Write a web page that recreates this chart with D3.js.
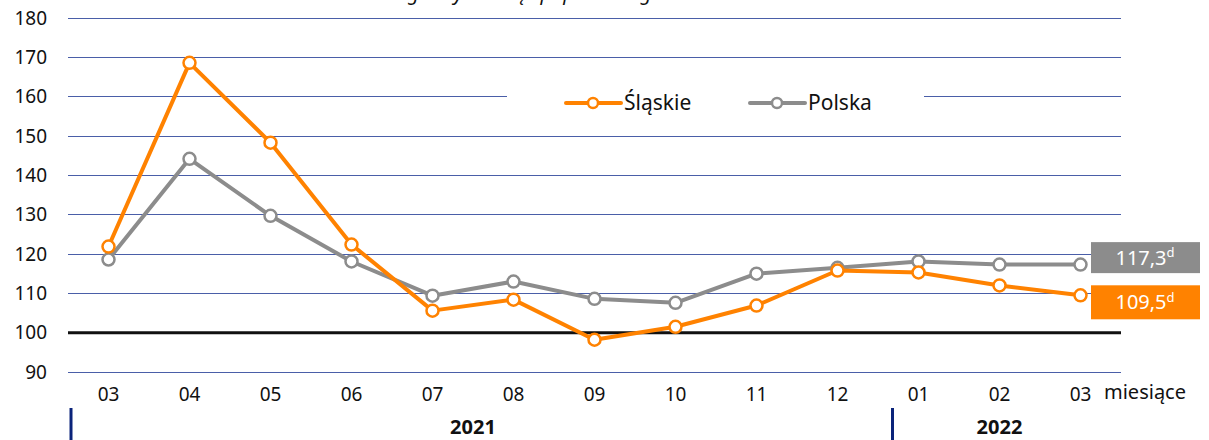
<!DOCTYPE html>
<meta charset="utf-8">
<style>
body { margin: 0; background: #fff; }
svg text { font-family: "Noto Sans", sans-serif; fill: #111; }
.grid line { stroke: #4a5ea8; stroke-width: 1px; shape-rendering: crispEdges; }
.tick-y { font-size: 19px; }
.tick-x { font-size: 19px; }
</style>
<svg width="1209" height="440"></svg>
<script src="https://cdn.jsdelivr.net/npm/d3@7"></script>
<script>

// months shown on the x axis
let months = ["03", "04", "05", "06", "07", "08", "09", "10", "11", "12", "01", "02", "03"];
// analogiczny miesiąc poprzedniego roku = 100
let slaskie = [121.9, 168.6, 148.3, 122.4, 105.6, 108.4, 98.2, 101.5, 106.9, 115.8, 115.3, 112.0, 109.5];
let polska  = [118.6, 144.2, 129.7, 118.1, 109.4, 113.0, 108.6, 107.6, 115.0, 116.5, 118.1, 117.3, 117.3];
let yTicks = [90, 100, 110, 120, 130, 140, 150, 160, 170, 180];
let years = [{label: "2021", from: 0, to: 9}, {label: "2022", from: 10, to: 12}];
let lastLabels = ["117,3", "109,5"];

let svg = d3.select("svg");
let plotLeft = 68, plotRight = 1121, plotTop = 18, plotBottom = 372;

let x = d3.scaleBand().domain(d3.range(months.length)).range([plotLeft, plotRight]);
let y = d3.scaleLinear().domain([90, 180]).range([plotBottom, plotTop]);
let cx = i => x(i) + x.bandwidth() / 2;

// title (cut off at the top of the picture, as in the source)
svg.append("text")
    .attr("x", 560).attr("y", 0)
    .attr("text-anchor", "middle")
    .style("font-size", "20px").style("font-style", "italic")
    .text("analogiczny miesiąc poprzedniego roku = 100");

// gridlines
let grid = svg.append("g").attr("class", "grid");
grid.selectAll("line")
    .data(yTicks.filter(d => d !== 100))
    .enter().append("line")
    .attr("x1", plotLeft).attr("x2", plotRight)
    .attr("y1", d => y(d)).attr("y2", d => y(d));

// y tick labels
svg.selectAll(".tick-y")
    .data(yTicks)
    .enter().append("text")
    .attr("class", "tick-y")
    .attr("x", 47).attr("y", d => y(d))
    .attr("dy", "0.35em")
    .attr("text-anchor", "end")
    .text(d => d);

// legend (white box hides the gridline behind it)
let legend = svg.append("g");
legend.append("rect")
    .attr("x", 507).attr("y", 85).attr("width", 417).attr("height", 34)
    .attr("fill", "#fff");

// base line at 100
svg.append("line")
    .attr("x1", plotLeft).attr("x2", plotRight)
    .attr("y1", y(100)).attr("y2", y(100))
    .attr("stroke", "#111").attr("stroke-width", 3);

let series = [
    {name: "Polska", values: polska, color: "#8c8c8c"},
    {name: "Śląskie", values: slaskie, color: "#ff8200"}
];

let line = d3.line()
    .x((d, i) => cx(i))
    .y(d => y(d));

series.forEach(function(s) {
    svg.append("path")
        .attr("d", line(s.values))
        .attr("fill", "none")
        .attr("stroke", s.color)
        .attr("stroke-width", 4)
        .attr("stroke-linejoin", "round");
    svg.selectAll(null)
        .data(s.values)
        .enter().append("circle")
        .attr("cx", (d, i) => cx(i))
        .attr("cy", d => y(d))
        .attr("r", 6)
        .attr("fill", "#fff")
        .attr("stroke", s.color)
        .attr("stroke-width", 2.5);
});

// legend items
let legendItems = [
    {name: "Śląskie", color: "#ff8200", x: 566},
    {name: "Polska", color: "#8c8c8c", x: 750}
];
legendItems.forEach(function(l) {
    legend.append("line")
        .attr("x1", l.x).attr("x2", l.x + 55)
        .attr("y1", 103).attr("y2", 103)
        .attr("stroke", l.color).attr("stroke-width", 4)
        .attr("stroke-linecap", "round");
    legend.append("circle")
        .attr("cx", l.x + 27).attr("cy", 103).attr("r", 5)
        .attr("fill", "#fff").attr("stroke", l.color).attr("stroke-width", 2.5);
    legend.append("text")
        .attr("x", l.x + 58).attr("y", 103)
        .attr("dy", "0.35em")
        .style("font-size", "21px")
        .text(l.name);
});

// value labels on the right
let boxes = [
    {text: lastLabels[0], color: "#8c8c8c", value: polska[polska.length - 1], dy: -7, h: 31},
    {text: lastLabels[1], color: "#ff8200", value: slaskie[slaskie.length - 1], dy: 7, h: 34}
];
boxes.forEach(function(b) {
    let cy = y(b.value) + b.dy;
    svg.append("rect")
        .attr("x", 1091).attr("y", cy - b.h / 2).attr("width", 109).attr("height", b.h)
        .attr("fill", b.color);
    let t = svg.append("text")
        .attr("x", 1145).attr("y", cy)
        .attr("dy", "0.35em")
        .attr("text-anchor", "middle")
        .style("font-size", "20px")
        .style("fill", "#fff");
    t.append("tspan").text(b.text);
    t.append("tspan").attr("dy", "-0.55em").style("font-size", "13px").text("d");
});

// x tick labels
svg.selectAll(".tick-x")
    .data(months)
    .enter().append("text")
    .attr("class", "tick-x")
    .attr("x", (d, i) => cx(i)).attr("y", 401)
    .attr("text-anchor", "middle")
    .text(d => d);

svg.append("text")
    .attr("x", 1104).attr("y", 399)
    .style("font-size", "20px")
    .text("miesiące");

// years
years.forEach(function(yr, k) {
    let x0 = k === 0 ? 71 : cx(yr.from) - 26;
    svg.append("line")
        .attr("x1", x0).attr("x2", x0)
        .attr("y1", 408).attr("y2", 440)
        .attr("stroke", "#0a237a").attr("stroke-width", 3);
    svg.append("text")
        .attr("x", (cx(yr.from) + cx(yr.to)) / 2).attr("y", 434)
        .attr("text-anchor", "middle")
        .style("font-size", "20px").style("font-weight", "bold")
        .text(yr.label);
});

</script>
